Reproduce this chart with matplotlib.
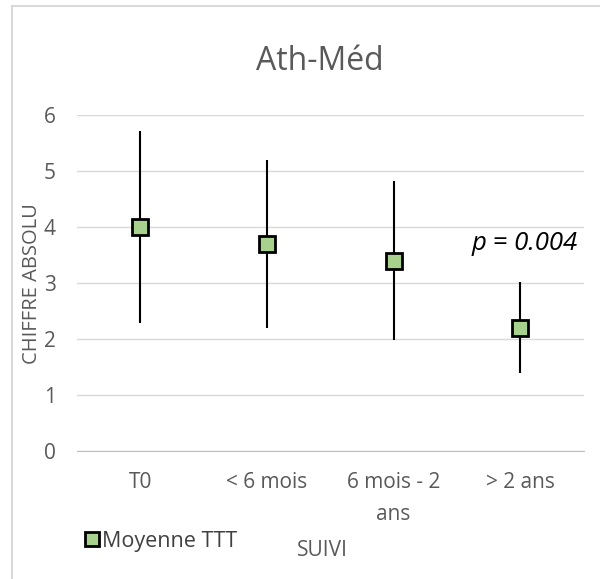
import matplotlib.pyplot as plt
from matplotlib.patches import Rectangle
from matplotlib.lines import Line2D

categories = ["T0", "< 6 mois", "6 mois - 2\nans", "> 2 ans"]
means = [4.0, 3.7, 3.4, 2.2]
lows = [2.29, 2.2, 1.98, 1.39]
highs = [5.72, 5.2, 4.82, 3.02]

plt.rcParams['font.family'] = ['Open Sans', 'DejaVu Sans']

fig = plt.figure(figsize=(6, 5.79), dpi=100)
fig.patches.append(Rectangle((0.02, -0.01), 1.2, 1.0, transform=fig.transFigure,
                             fill=False, edgecolor='#d9d9d9', linewidth=1.5))
ax = fig.add_axes([0.128, 0.221, 0.845, 0.580])

x = list(range(len(categories)))
yerr = [[m - lo for m, lo in zip(means, lows)], [hi - m for m, hi in zip(means, highs)]]
ax.errorbar(x, means, yerr=yerr, fmt='s', color='black', ecolor='black', elinewidth=1.5,
            capsize=0, markersize=12, markerfacecolor='#a9d18e', markeredgecolor='black',
            markeredgewidth=2, zorder=3)

ax.set_xlim(-0.5, 3.5)
ax.set_ylim(0, 6)
ax.set_yticks(range(7))
ax.set_xticks(x)
ax.set_xticklabels(categories, linespacing=1.7)
ax.yaxis.grid(True, color='#d9d9d9', linewidth=1)
ax.set_axisbelow(True)
for s in ['top', 'right', 'left']:
    ax.spines[s].set_visible(False)
ax.spines['bottom'].set_color('#bfbfbf')
ax.tick_params(length=0, labelsize=15, colors='#595959')
ax.tick_params(axis='x', pad=15)
ax.tick_params(axis='y', pad=15)

ax.set_ylabel('CHIFFRE ABSOLU', fontsize=14.5, color='#595959')
ax.yaxis.set_label_coords(-0.069, 0.5)
ax.set_xlabel('SUIVI', fontsize=15, color='#595959')
ax.xaxis.set_label_coords(0.485, -0.265)
fig.text(0.533, 0.893, 'Ath-Méd', ha='center', va='center', fontsize=23, color='#595959')
ax.text(3.45, 3.7, 'p = 0.004', ha='right', va='center', fontsize=18.5, style='italic', color='black')

handle = Line2D([], [], linestyle='none', marker='s', markersize=10, markerfacecolor='#a9d18e',
                markeredgecolor='black', markeredgewidth=2)
fig.legend([handle], ['Moyenne TTT'], loc='center left', bbox_to_anchor=(0.143, 1 - 541 / 579),
           frameon=False, fontsize=15.5, handlelength=0.6, handletextpad=0.15,
           borderpad=0, borderaxespad=0, labelcolor='#404040')

fig.savefig('out.png', dpi=100)
